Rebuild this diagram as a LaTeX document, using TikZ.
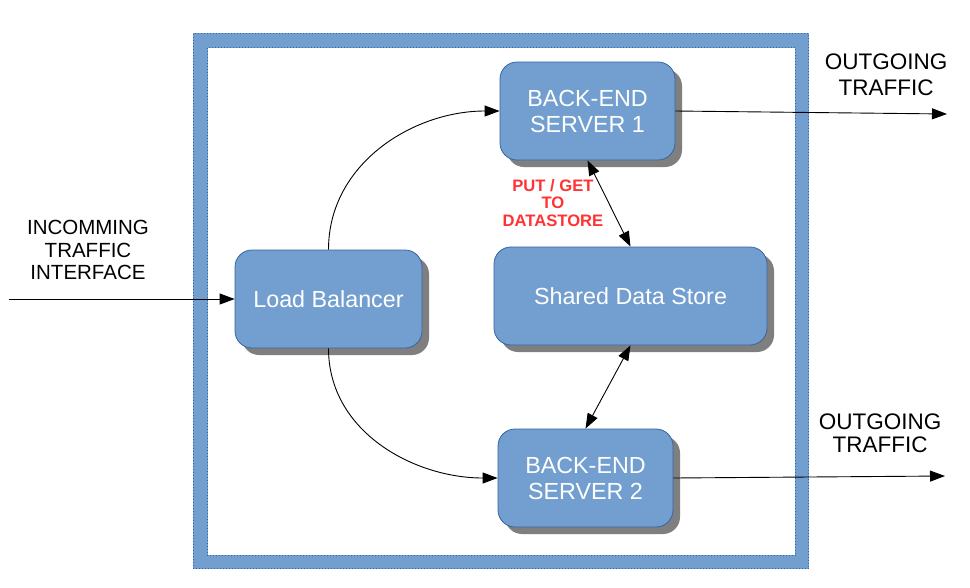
\documentclass[tikz,border=0pt]{standalone}
\usepackage{fontspec}
\setmainfont{Liberation Sans}
\usetikzlibrary{arrows.meta,shadows}
\definecolor{boxblue}{HTML}{729FCF}
\definecolor{edgeblue}{HTML}{3465A4}
\definecolor{shadowgray}{HTML}{7F7F7F}
\definecolor{labelred}{HTML}{FF3333}
\tikzset{
  srvbox/.style={draw=edgeblue, line width=0.8pt, fill=boxblue, rounded corners=17pt,
    text=white, align=center, inner sep=0pt,
    font=\fontsize{23.3}{26}\selectfont,
    general shadow={fill=shadowgray, shadow xshift=7pt, shadow yshift=-7pt}},
  outlabel/.style={align=center, inner sep=0pt, font=\fontsize{20.5}{22.5}\selectfont},
  conn/.style={line width=0.9pt, -{Triangle[length=15pt,width=11pt]}},
  dconn/.style={line width=0.9pt, {Triangle[length=15pt,width=11pt]}-{Triangle[length=15pt,width=11pt]}},
}
\begin{document}
\begin{tikzpicture}[x=1pt,y=-1pt]
\useasboundingbox (0,0) rectangle (970,587);
% frame
\fill[boxblue] (193,33) rectangle (809,569);
\fill[white] (208,48) rectangle (795,555);
\draw[edgeblue, dotted, line width=1pt] (193.5,33.5) rectangle (808.5,568.5);
\draw[edgeblue, dotted, line width=1pt] (207.5,47.5) rectangle (795.5,555.5);
% nodes
\node[srvbox, minimum width=175pt, minimum height=98pt] (s1) at (587.5,111) {BACK-END\\SERVER 1};
\node[srvbox, minimum width=273pt, minimum height=98pt] (ds) at (630.5,296) {Shared Data Store};
\node[srvbox, minimum width=187pt, minimum height=98pt] (lb) at (328.5,299) {Load Balancer};
\node[srvbox, minimum width=175pt, minimum height=98pt] (s2) at (585.5,478) {BACK-END\\SERVER 2};
% labels
\node[outlabel] (inc) at (88,250) {INCOMMING\\TRAFFIC\\INTERFACE};
\node[outlabel, font=\fontsize{22.5}{26}\selectfont] (out1) at (886,75) {OUTGOING\\TRAFFIC};
\node[outlabel, font=\fontsize{22.5}{23}\selectfont] (out2) at (880,433) {OUTGOING\\TRAFFIC};
\node[align=center, inner sep=0pt, text=labelred, font=\bfseries\fontsize{16.6}{17.7}\selectfont] (put) at (553,203) {PUT / GET\\TO\\DATASTORE};
% coordinates
\coordinate (inA) at (9,299);
\coordinate (o1) at (947,114);
\coordinate (o2) at (945,476);
% connectors
\draw[conn] (inA) -- (lb.west);
\draw[conn] (lb.north) to[out=90,in=180] (s1.west);
\draw[conn] (lb.south) to[out=-90,in=180] (s2.west);
\draw[conn] (s1.east) -- (o1);
\draw[conn] (s2.east) -- (o2);
\draw[dconn] (s1.south) -- (ds.north);
\draw[dconn] (ds.south) -- (s2.north);
\end{tikzpicture}
\end{document}
